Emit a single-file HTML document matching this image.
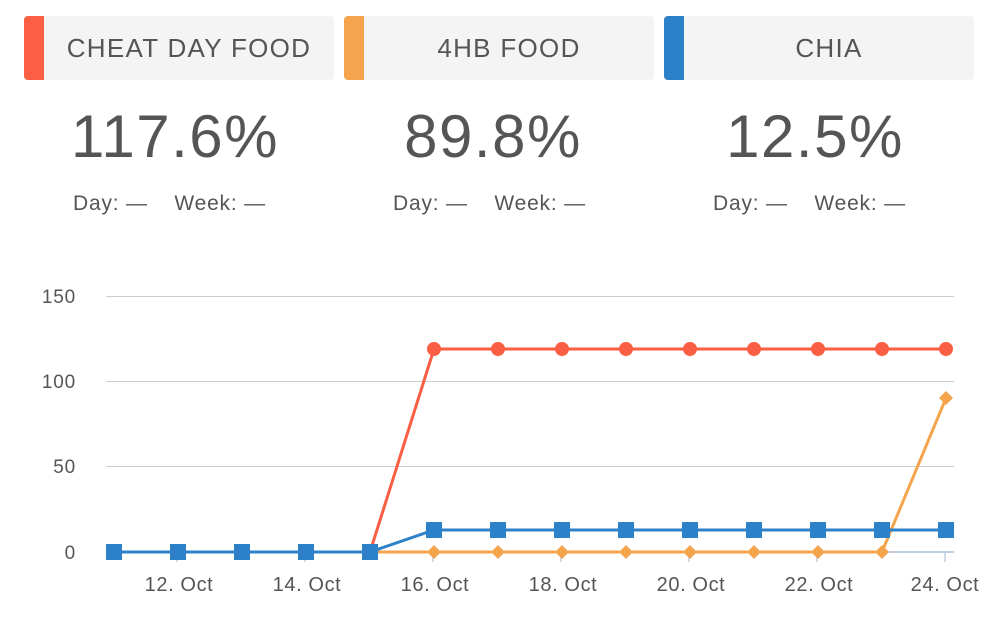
<!DOCTYPE html>
<html><head><meta charset="utf-8"><style>
body{margin:0;background:#fff;width:988px;height:644px;overflow:hidden;font-family:"Liberation Sans",sans-serif;color:#555}
.box{position:absolute;top:16px;height:64px;width:310px;background:#f4f4f4;border-radius:4px;overflow:hidden}
.box .s{position:absolute;left:0;top:0;width:20px;height:64px}
.box .t{position:absolute;left:20px;right:0;top:0;line-height:64px;text-align:center;font-size:26px;letter-spacing:1.3px;color:#555}
.big{position:absolute;top:102px;width:310px;text-align:center;font-size:60px;letter-spacing:1.5px;color:#555}
.sub{position:absolute;top:192px;font-size:21px;letter-spacing:0.8px;color:#555}
</style></head><body>
<div class="box" style="left:24px"><div class="s" style="background:#fa5f43"></div><div class="t">CHEAT DAY FOOD</div></div>
<div class="box" style="left:344px"><div class="s" style="background:#f4a44d"></div><div class="t">4HB FOOD</div></div>
<div class="box" style="left:664px"><div class="s" style="background:#2d81c8"></div><div class="t">CHIA</div></div>
<div class="big" style="left:20px">117.6%</div>
<div class="big" style="left:338px">89.8%</div>
<div class="big" style="left:660px">12.5%</div>
<div class="sub" style="left:73px">Day: —&nbsp;&nbsp;&nbsp;&nbsp;Week: —</div>
<div class="sub" style="left:393px">Day: —&nbsp;&nbsp;&nbsp;&nbsp;Week: —</div>
<div class="sub" style="left:713px">Day: —&nbsp;&nbsp;&nbsp;&nbsp;Week: —</div>
<svg width="988" height="644" style="position:absolute;left:0;top:0" font-family="Liberation Sans, sans-serif">
<g stroke="#ccc" stroke-width="1">
<line x1="106" y1="296.5" x2="954" y2="296.5"/>
<line x1="106" y1="381.5" x2="954" y2="381.5"/>
<line x1="106" y1="466.5" x2="954" y2="466.5"/>
</g>
<line x1="106" y1="552" x2="954" y2="552" stroke="#c0d0e0" stroke-width="2"/>
<g stroke="#c0d0e0" stroke-width="1.5">
<line x1="177" y1="552" x2="177" y2="562"/><line x1="305" y1="552" x2="305" y2="562"/><line x1="433" y1="552" x2="433" y2="562"/><line x1="561" y1="552" x2="561" y2="562"/><line x1="689" y1="552" x2="689" y2="562"/><line x1="817" y1="552" x2="817" y2="562"/><line x1="945" y1="552" x2="945" y2="562"/>
</g>
<g font-size="19" fill="#555" text-anchor="end" letter-spacing="0.8">
<text x="76" y="303">150</text><text x="76" y="388">100</text><text x="76" y="473">50</text><text x="76" y="559">0</text>
</g>
<g font-size="20" fill="#555" text-anchor="middle" letter-spacing="0.6">
<text x="179" y="591">12. Oct</text><text x="307" y="591">14. Oct</text><text x="435" y="591">16. Oct</text><text x="563" y="591">18. Oct</text><text x="691" y="591">20. Oct</text><text x="819" y="591">22. Oct</text><text x="945" y="591">24. Oct</text>
</g>
<polyline fill="none" stroke="#fa5f43" stroke-width="3" points="370,552 434,349 498,349 562,349 626,349 690,349 754,349 818,349 882,349 946,349"/>
<g fill="#fa5f43"><circle cx="434" cy="349" r="7"/><circle cx="498" cy="349" r="7"/><circle cx="562" cy="349" r="7"/><circle cx="626" cy="349" r="7"/><circle cx="690" cy="349" r="7"/><circle cx="754" cy="349" r="7"/><circle cx="818" cy="349" r="7"/><circle cx="882" cy="349" r="7"/><circle cx="946" cy="349" r="7"/></g>
<polyline fill="none" stroke="#f4a44d" stroke-width="3" points="370,552 434,552 498,552 562,552 626,552 690,552 754,552 818,552 882,552 946,398"/>
<g fill="#f4a44d">
<path d="M434,545l7,7-7,7-7-7z"/><path d="M498,545l7,7-7,7-7-7z"/><path d="M562,545l7,7-7,7-7-7z"/><path d="M626,545l7,7-7,7-7-7z"/><path d="M690,545l7,7-7,7-7-7z"/><path d="M754,545l7,7-7,7-7-7z"/><path d="M818,545l7,7-7,7-7-7z"/><path d="M882,545l7,7-7,7-7-7z"/><path d="M946,391l7,7-7,7-7-7z"/>
</g>
<polyline fill="none" stroke="#2d81c8" stroke-width="3" points="114,552 178,552 242,552 306,552 370,552 434,530 498,530 562,530 626,530 690,530 754,530 818,530 882,530 946,530"/>
<g fill="#2d81c8">
<rect x="106" y="544" width="16" height="16"/><rect x="170" y="544" width="16" height="16"/><rect x="234" y="544" width="16" height="16"/><rect x="298" y="544" width="16" height="16"/><rect x="362" y="544" width="16" height="16"/>
<rect x="426" y="522" width="16" height="16"/><rect x="490" y="522" width="16" height="16"/><rect x="554" y="522" width="16" height="16"/><rect x="618" y="522" width="16" height="16"/><rect x="682" y="522" width="16" height="16"/><rect x="746" y="522" width="16" height="16"/><rect x="810" y="522" width="16" height="16"/><rect x="874" y="522" width="16" height="16"/><rect x="938" y="522" width="16" height="16"/>
</g>
</svg>
</body></html>
